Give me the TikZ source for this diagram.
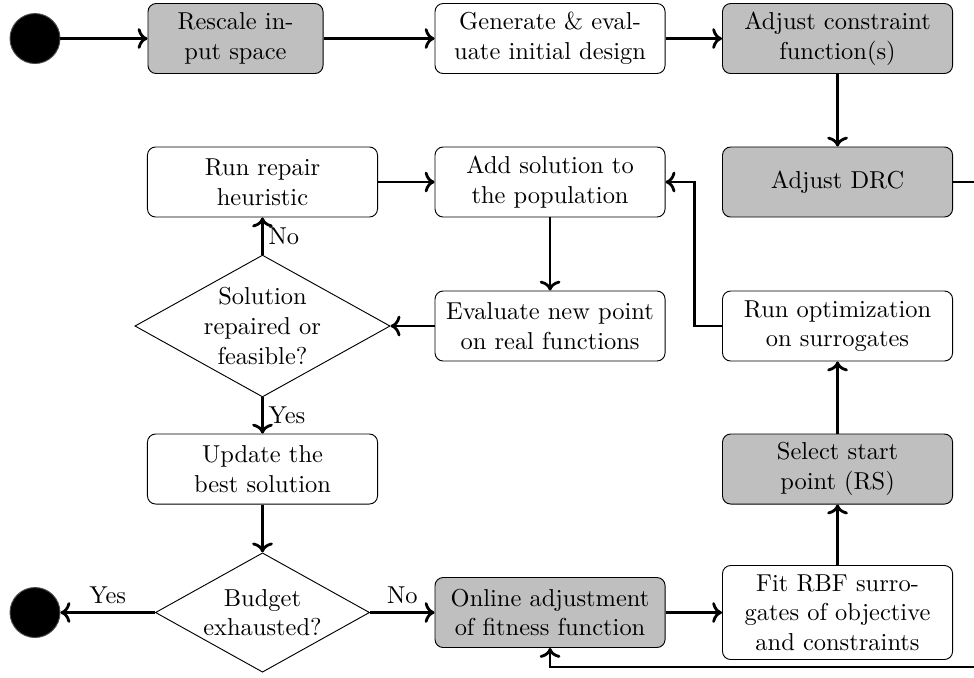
\documentclass[tikz,border=0pt]{standalone}
\usepackage{amsmath,amssymb}
\usetikzlibrary{arrows.meta,calc,shapes.geometric}
\tikzset{
    every picture/.style={line width=0.4pt},
    every node/.style={font=\fontsize{10.5}{12.7}\selectfont},
    stepbox/.style={rectangle,draw,rounded corners=3.5pt,minimum width=3.47cm,
        minimum height=1.056cm,inner sep=2pt,align=center},
    adjbox/.style={stepbox,fill=black!25},
    decision/.style={diamond,draw,aspect=1.8,inner sep=0pt,align=center},
    terminal/.style={circle,draw=black!70,fill=black,minimum size=0.754cm,inner sep=0pt},
    flow/.style={->,very thick}
}
\begin{document}
\begin{tikzpicture}
    \useasboundingbox (0,0) rectangle (14.69,10.211);

    % Initialisation row
    \node[terminal] (start) at (0.528,9.630) {};
    \node[adjbox,minimum width=2.64cm] (rescale) at (3.552,9.630) {Rescale in-\\put space};
    \node[stepbox] (init) at (8.296,9.630) {Generate \& eval-\\uate initial design};
    \node[adjbox] (adjcon) at (12.632,9.630) {Adjust constraint\\function(s)};

    % Main loop
    \node[stepbox] (repair) at (3.959,7.466) {Run repair\\heuristic};
    \node[stepbox] (addsol) at (8.296,7.466) {Add solution to\\the population};
    \node[adjbox] (drc) at (12.632,7.466) {Adjust DRC};

    \node[decision,minimum width=3.85cm,minimum height=2.14cm] (feasible) at (3.959,5.294) {Solution\\repaired or\\feasible?};
    \node[stepbox] (evalpt) at (8.296,5.294) {Evaluate new point\\on real functions};
    \node[stepbox] (runopt) at (12.632,5.294) {Run optimization\\on surrogates};

    \node[stepbox] (update) at (3.959,3.137) {Update the\\best solution};
    \node[adjbox] (select) at (12.632,3.137) {Select start\\point (RS)};

    \node[terminal] (stop) at (0.528,0.973) {};
    \node[decision,minimum width=3.23cm,minimum height=1.80cm] (budget) at (3.959,0.973) {Budget\\exhausted?};
    \node[adjbox] (online) at (8.296,0.973) {Online adjustment\\of fitness function};
    \node[stepbox,minimum height=1.418cm] (fitrbf) at (12.632,0.973) {Fit RBF surro-\\gates of objective\\and constraints};

    \coordinate (back) at (15.3,0.151);

    % Connectors
    \draw[flow] (start) -- (rescale);
    \draw[flow] (rescale) -- (init);
    \draw[flow] (init) -- (adjcon);
    \draw[flow] (adjcon) -- (drc);
    \draw[flow] (drc.east) -| (back) -| (online.south);
    \draw[flow] (repair) -- (addsol);
    \draw[flow] (addsol) -- (evalpt);
    \draw[flow] (evalpt) -- (feasible);
    \draw[flow] (feasible) -- node[right,inner sep=2pt] {No} (repair);
    \draw[flow] (feasible) -- node[right,inner sep=2pt] {Yes} (update);
    \draw[flow] (update) -- (budget);
    \draw[flow] (budget) -- node[above] {Yes} (stop);
    \draw[flow] (budget) -- node[above] {No} (online);
    \draw[flow] (online) -- (fitrbf);
    \draw[flow] (fitrbf) -- (select);
    \draw[flow] (select) -- (runopt);
    \draw[flow] (runopt.west) -- ($(runopt.west)+(-0.41,0)$) |- (addsol.east);
\end{tikzpicture}
\end{document}
